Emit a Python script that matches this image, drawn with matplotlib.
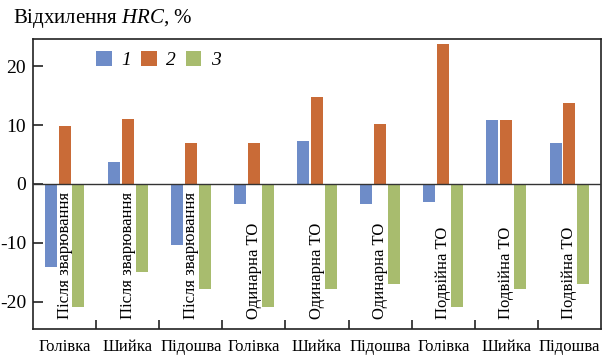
import matplotlib
matplotlib.use("Agg")
import matplotlib.pyplot as plt
import numpy as np

plt.rcParams['font.family'] = ['Liberation Serif', 'DejaVu Serif']
plt.rcParams['mathtext.fontset'] = 'custom'
plt.rcParams['mathtext.rm'] = 'Liberation Serif'
plt.rcParams['mathtext.it'] = 'Liberation Serif:italic'
plt.rcParams['axes.unicode_minus'] = False

parts = ["Голівка", "Шийка", "Підошва", "Голівка", "Шийка", "Підошва", "Голівка", "Шийка", "Підошва"]
states = ["Після зварювання", "Після зварювання", "Після зварювання",
          "Одинарна ТО", "Одинарна ТО", "Одинарна ТО",
          "Подвійна ТО", "Подвійна ТО", "Подвійна ТО"]
series_names = ["1", "2", "3"]
s1 = [-14.0, 3.8, -10.3, -3.4, 7.3, -3.4, -3.1, 10.8, 6.9]
s2 = [9.8, 11.0, 7.0, 7.0, 14.8, 10.2, 23.8, 10.8, 13.8]
s3 = [-20.8, -15.0, -17.8, -20.8, -17.8, -17.0, -20.8, -17.8, -17.0]
colors = ["#6E8CC8", "#C96B37", "#A8BC6E"]
yticks = [-20, -10, 0, 10, 20]

fig = plt.figure(figsize=(6.15, 3.55), dpi=100)
ax = fig.add_axes([33/615, 1 - 329/355, (601-33)/615, (329-39)/355])

x = np.arange(len(parts))
w = 0.19
offs = [-0.22, 0.0, 0.22]
for vals, off, c, name in zip([s1, s2, s3], offs, colors, series_names):
    ax.bar(x + off, vals, width=w, color=c, label=name, zorder=2)

ax.axhline(0, color="#333333", lw=1.0, zorder=3)

for xi, s in zip(x, states):
    ax.text(xi, -22.9, s, rotation=90, ha="center", va="bottom", fontsize=12, zorder=4)

ax.set_xlim(-0.5, len(parts) - 0.5)
ax.set_ylim(-24.6, 24.6)
ax.set_yticks(yticks)
ax.set_yticklabels([str(v) for v in yticks])
ax.set_xticks(x[:-1] + 0.5)
ax.set_xticklabels([])
ax.set_xticks(x, minor=True)
ax.set_xticklabels(parts, minor=True)
ax.tick_params(axis="y", direction="in", length=7, width=1.2, labelsize=14, pad=5, color="#222222")
ax.tick_params(axis="x", which="major", direction="in", length=6.5, width=1.2, color="#222222")
ax.tick_params(axis="x", which="minor", length=0, labelsize=12, pad=7)
for sp in ax.spines.values():
    sp.set_color("#222222")
    sp.set_linewidth(1.2)

leg = ax.legend(loc="upper left", bbox_to_anchor=(0.098, 0.985), borderaxespad=0, ncol=3, frameon=False,
                prop={"style": "italic", "size": 14}, handlelength=0.8, handleheight=0.8,
                handletextpad=0.5, columnspacing=0.5)

fig.text(13/615, 1 - 19/355, "Відхилення $HRC$, %", fontsize=15, ha="left", va="center")

fig.savefig("out.png", dpi=100)
